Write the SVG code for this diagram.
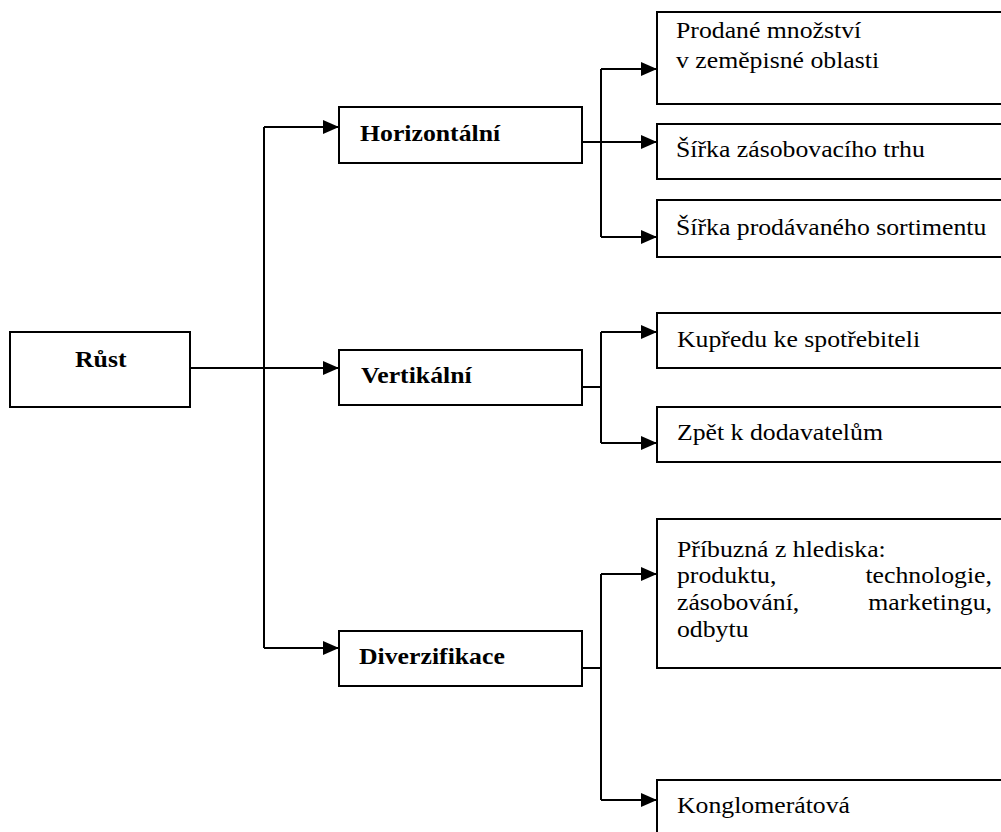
<svg xmlns="http://www.w3.org/2000/svg" width="1001" height="832" viewBox="0 0 1001 832">
  <style>
    .box { fill: #ffffff; stroke: #000000; stroke-width: 2; }
    .wire { fill: none; stroke: #000000; stroke-width: 2; }
    .lbl { font-family: "Liberation Serif", "Times New Roman", serif; font-size: 23px; fill: #000000; }
    .bold { font-weight: bold; }
  </style>
  <defs>
    <marker id="arrow" markerUnits="userSpaceOnUse" markerWidth="16" markerHeight="14" refX="16" refY="7" orient="auto">
      <path d="M0,0 L16,7 L0,14 Z" fill="#000000"/>
    </marker>
  </defs>
  <rect width="1001" height="832" fill="#ffffff"/>

  <!-- connectors -->
  <g id="connectors" class="wire">
    <!-- root to level one -->
    <path d="M190,368 H339" marker-end="url(#arrow)"/>
    <path d="M264,127 V648"/>
    <path d="M264,127 H339" marker-end="url(#arrow)"/>
    <path d="M264,648 H339" marker-end="url(#arrow)"/>
    <!-- horizontal branch -->
    <path d="M582,142 H657" marker-end="url(#arrow)"/>
    <path d="M601,69 V237"/>
    <path d="M601,69 H657" marker-end="url(#arrow)"/>
    <path d="M601,237 H657" marker-end="url(#arrow)"/>
    <!-- vertical branch -->
    <path d="M582,387 H601"/>
    <path d="M601,332 V443"/>
    <path d="M601,332 H657" marker-end="url(#arrow)"/>
    <path d="M601,443 H657" marker-end="url(#arrow)"/>
    <!-- diversification branch -->
    <path d="M582,668 H601"/>
    <path d="M601,574 V800"/>
    <path d="M601,574 H657" marker-end="url(#arrow)"/>
    <path d="M601,800 H657" marker-end="url(#arrow)"/>
  </g>

  <g id="rust">
    <rect class="box" x="10" y="332" width="180" height="75"/>
    <text class="lbl bold" transform="translate(75 367) scale(1.12 1)">Růst</text>
  </g>

  <g id="horizontalni">
    <rect class="box" x="339" y="107" width="243" height="56"/>
    <text class="lbl bold" transform="translate(360 141) scale(1.12 1)">Horizontální</text>
  </g>

  <g id="vertikalni">
    <rect class="box" x="339" y="350" width="243" height="55"/>
    <text class="lbl bold" transform="translate(361 383) scale(1.12 1)">Vertikální</text>
  </g>

  <g id="diverzifikace">
    <rect class="box" x="339" y="631" width="243" height="55"/>
    <text class="lbl bold" transform="translate(359 664) scale(1.12 1)">Diverzifikace</text>
  </g>

  <g id="prodane-mnozstvi">
    <rect class="box" x="657" y="12" width="360" height="92"/>
    <text class="lbl" transform="translate(676 38) scale(1.12 1)">Prodané množství</text>
    <text class="lbl" transform="translate(676 68) scale(1.12 1)">v zeměpisné oblasti</text>
  </g>

  <g id="sirka-zasobovaciho">
    <rect class="box" x="657" y="124" width="360" height="55"/>
    <text class="lbl" transform="translate(676 157) scale(1.12 1)">Šířka zásobovacího trhu</text>
  </g>

  <g id="sirka-sortimentu">
    <rect class="box" x="657" y="200" width="360" height="57"/>
    <text class="lbl" transform="translate(676 235) scale(1.12 1)">Šířka prodávaného sortimentu</text>
  </g>

  <g id="kupredu">
    <rect class="box" x="657" y="313" width="360" height="55"/>
    <text class="lbl" transform="translate(677 347) scale(1.12 1)">Kupředu ke spotřebiteli</text>
  </g>

  <g id="zpet">
    <rect class="box" x="657" y="407" width="360" height="55"/>
    <text class="lbl" transform="translate(677 440) scale(1.12 1)">Zpět k dodavatelům</text>
  </g>

  <g id="pribuzna">
    <rect class="box" x="657" y="519" width="360" height="149"/>
    <text class="lbl" transform="translate(677 557) scale(1.12 1)">Příbuzná z hlediska:</text>
    <text class="lbl" transform="translate(677 583) scale(1.12 1)">produktu,</text>
    <text class="lbl" text-anchor="end" transform="translate(992 583) scale(1.12 1)">technologie,</text>
    <text class="lbl" transform="translate(677 610) scale(1.12 1)">zásobování,</text>
    <text class="lbl" text-anchor="end" transform="translate(992 610) scale(1.12 1)">marketingu,</text>
    <text class="lbl" transform="translate(677 637) scale(1.12 1)">odbytu</text>
  </g>

  <g id="konglomeratova">
    <rect class="box" x="657" y="780" width="360" height="70"/>
    <text class="lbl" transform="translate(677 813) scale(1.12 1)">Konglomerátová</text>
  </g>
</svg>
